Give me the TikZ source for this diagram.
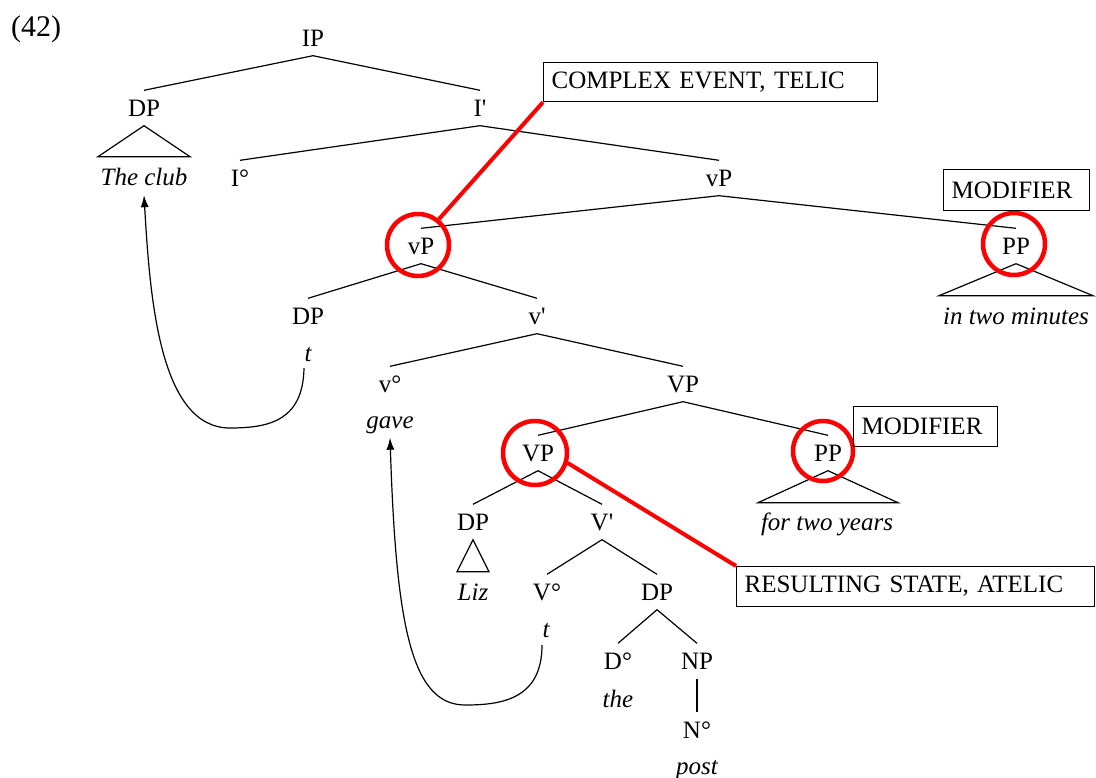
\documentclass[tikz,border=0pt]{standalone}
\usepackage{fontspec}
\setmainfont{Liberation Serif}[Ligatures=TeXOff]
\usetikzlibrary{arrows.meta,calc}
\begin{document}
\begin{tikzpicture}[x=1pt,y=-1pt,
  lbl/.style={font=\fontsize{25}{30}\selectfont, text height=17pt, text depth=0pt, inner xsep=2pt, inner ysep=9pt},
  wd/.style={lbl, font=\fontsize{25}{30}\selectfont\itshape},
  br/.style={line width=1.2pt},
  ring/.style={circle, draw=red, line width=4.5pt, inner sep=0pt, minimum size=#1},
  lab/.style={draw, line width=1.2pt, font=\fontsize{25}{30}\selectfont, anchor=north west, inner xsep=8pt, inner ysep=0pt, align=left},
  mv/.style={line width=1.2pt, -{Latex[length=12pt,width=8pt]}},
  hl/.style={draw=red, line width=4pt}
]
\useasboundingbox (0,0) rectangle (1096,778);

\node[font=\fontsize{30}{36}\selectfont, anchor=base west, inner sep=0pt] (ex) at (11,36.5) {(42)};

% tree labels
\node[lbl] (ip)   at (313,38)  {IP};
\node[lbl] (dp1)  at (144,108) {DP};
\node[wd]  (club) at (144,177.5) {The club};
\node[lbl] (ib)   at (480,108) {I'};
\node[lbl] (i0)   at (240,178) {I°};
\node[lbl] (vp1)  at (719,178) {vP};
\node[lbl] (vp2)  at (421,246) {vP};
\node[lbl] (pp1)  at (1016,246) {PP};
\node[wd]  (mins) at (1016,315.5) {in two minutes};
\node[lbl] (dp2)  at (308,316) {DP};
\node[wd]  (t1)   at (308,353.5) {t};
\node[lbl] (vb)   at (537,316) {v'};
\node[lbl] (v0)   at (390,384) {v°};
\node[wd]  (gave) at (390,420) {gave};
\node[lbl] (vp3)  at (683,384) {VP};
\node[lbl] (vp4)  at (538,453) {VP};
\node[lbl] (pp2)  at (828,453) {PP};
\node[wd]  (yrs)  at (827,521.5) {for two years};
\node[lbl] (dp3)  at (473,522) {DP};
\node[wd]  (liz)  at (473,591.5) {Liz};
\node[lbl] (Vb)   at (602,522) {V'};
\node[lbl] (V0)   at (547,592) {V°};
\node[wd]  (t2)   at (546,628.5) {t};
\node[lbl] (dp4)  at (657,592) {DP};
\node[lbl] (d0)   at (618,661) {D°};
\node[wd]  (the)  at (618,698.5) {the};
\node[lbl] (np)   at (697,661) {NP};
\node[lbl] (n0)   at (697,730) {N°};
\node[wd]  (post) at (697,765.5) {post};

% branches
\draw[br] (dp1.north) -- (ip.south) -- (ib.north);
\draw[br] (i0.north) -- (ib.south) -- (vp1.north);
\draw[br] (vp2.north) -- (vp1.south) -- (pp1.north);
\draw[br] (dp2.north) -- (vp2.south) -- (vb.north);
\draw[br] (v0.north) -- (vb.south) -- (vp3.north);
\draw[br] (vp4.north) -- (vp3.south) -- (pp2.north);
\draw[br] (dp3.north) -- (vp4.south) -- (Vb.north);
\draw[br] (V0.north) -- (Vb.south) -- (dp4.north);
\draw[br] (d0.north) -- (dp4.south) -- (np.north);
\draw[br] (np.south) -- (n0.north);

% triangles
\draw[br] (dp1.south) -- ($(dp1.south)+(-46,31)$) -- ($(dp1.south)+(46,31)$) -- cycle;
\draw[br] (pp1.south) -- ($(pp1.south)+(-77,32)$) -- ($(pp1.south)+(77,32)$) -- cycle;
\draw[br] (dp3.south) -- ($(dp3.south)+(-16,32)$) -- ($(dp3.south)+(16,32)$) -- cycle;
\draw[br] (pp2.south) -- ($(pp2.south)+(-70,32)$) -- ($(pp2.south)+(70,32)$) -- cycle;

% highlight rings
\node[ring=62pt] (c1) at (418,245) {};
\node[ring=62pt] (c2) at (1014,244) {};
\node[ring=64pt] (c3) at (535,453) {};
\node[ring=60pt] (c4) at (823,451) {};

% annotation boxes
\node[lab, text width=318pt, minimum height=39pt] (b1) at (543,62) {COMPLEX EVENT, TELIC};
\node[lab, text width=130pt, minimum height=41pt] (b2) at (943,169) {MODIFIER};
\node[lab, text width=128pt, minimum height=40pt] (b3) at (853,406) {MODIFIER};
\node[lab, text width=342pt, minimum height=40pt] (b4) at (736,566) {RESULTING STATE, ATELIC};

\draw[hl] (b1.south west) -- (c1.51);
\draw[hl] (b4.north west) -- (c3.-17);

% movement arrows
\coordinate (m1) at (230,428);
\coordinate (m2) at (465,705);
\draw[mv] ($(t1.south)+(-4,-3)$) .. controls (303,420) and (270,428) .. (m1)
  .. controls (160,428) and (150,300) .. (club.south);
\draw[mv] ($(t2.south)+(-4,-1)$) .. controls (542,700) and (500,705) .. (m2)
  .. controls (410,705) and (396,620) .. (gave.south);
\end{tikzpicture}
\end{document}
